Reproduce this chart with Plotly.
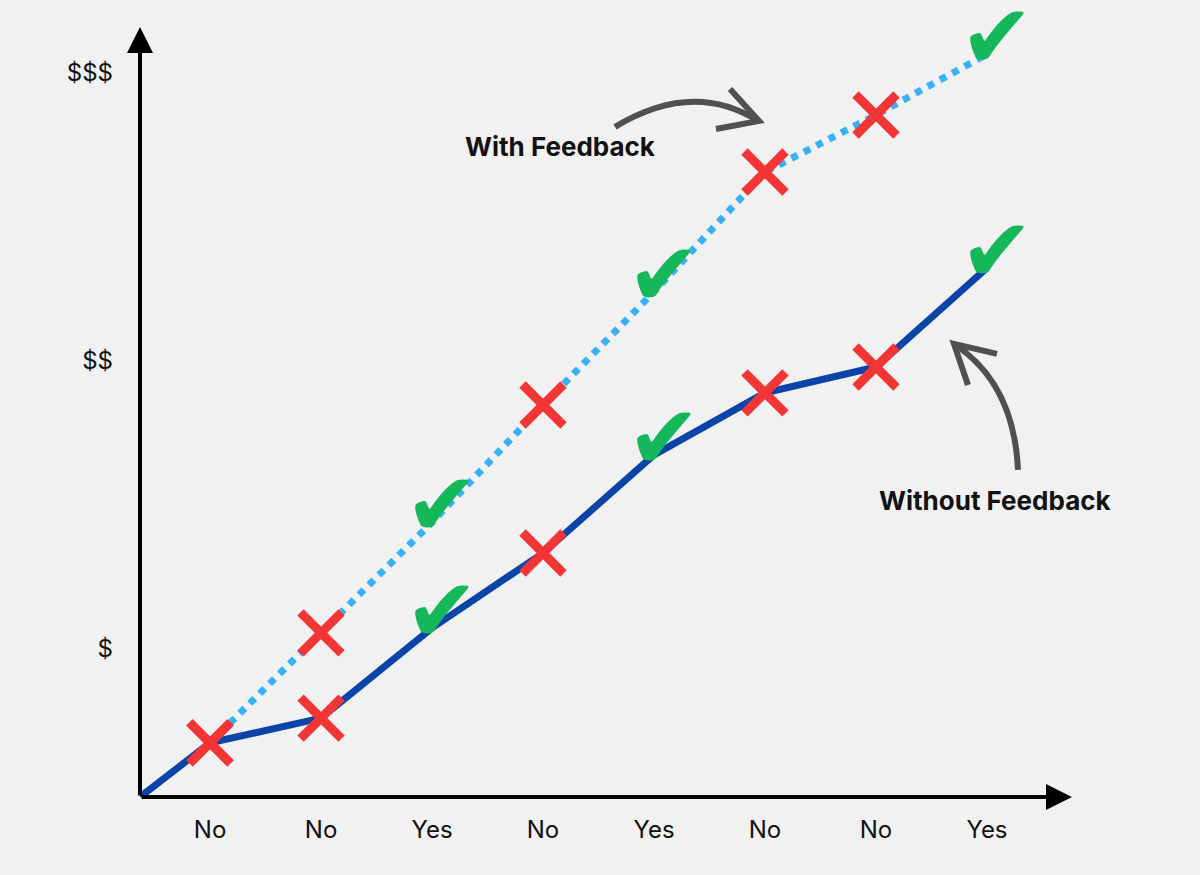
import plotly.graph_objects as go

# ---------------- data ----------------
steps = ["No", "No", "Yes", "No", "Yes", "No", "No", "Yes"]
step_pos = [1, 2, 3, 4, 5, 6, 7, 8]
without_feedback = [0.674, 0.760, 1.073, 1.333, 1.674, 1.889, 1.979, 2.323]
with_feedback = [0.674, 1.056, 1.44, 1.847, 2.24, 2.656, 2.854, 3.065]
origin_x, origin_y = 0.369, 0.486
y_tickvals = [1, 2, 3]
y_ticktext = ["$", "$$", "$$$"]

# ---------------- styling ----------------
BG = "#F1F1F1"
DARK_BLUE = "#0B44A8"
LIGHT_BLUE = "#38B0F6"
RED = "#F43535"
GREEN = "#14B85A"
GRAY = "#505050"
X_RANGE = [origin_x, 8.748]
Y_RANGE = [origin_y, 3.156]


def px_x(p):
    return 1 + (p - 210) / 111.0


def px_y(p):
    return 1 + (649 - p) / 288.0


fig = go.Figure()

# Without feedback (solid dark blue) starting at origin
fig.add_trace(go.Scatter(
    x=[origin_x] + step_pos, y=[origin_y] + without_feedback,
    mode="lines", line=dict(color=DARK_BLUE, width=7),
    hoverinfo="skip", showlegend=False, cliponaxis=False))

# With feedback (dotted light blue)
fig.add_trace(go.Scatter(
    x=step_pos, y=with_feedback,
    mode="lines", line=dict(color=LIGHT_BLUE, width=7, dash="dot"),
    hoverinfo="skip", showlegend=False, cliponaxis=False))

annotations = []
for series in (without_feedback, with_feedback):
    no_x = [x for x, s in zip(step_pos, steps) if s == "No"]
    no_y = [y for y, s in zip(series, steps) if s == "No"]
    fig.add_trace(go.Scatter(
        x=no_x, y=no_y, mode="markers",
        marker=dict(symbol="x-thin", size=41, color=RED,
                    line=dict(width=9, color=RED)),
        hoverinfo="skip", showlegend=False, cliponaxis=False))
    for x, y, s in zip(step_pos, series, steps):
        if s == "Yes":
            annotations.append(dict(
                x=x, y=y, xref="x", yref="y", text="✔", showarrow=False,
                xanchor="center", yanchor="bottom", xshift=10, yshift=-36,
                font=dict(family="DejaVu Sans", size=88, color=GREEN)))

# ---------------- decorations ----------------
def qpath(p0, c, p1):
    return "M {},{} Q {},{} {},{}".format(
        px_x(p0[0]), px_y(p0[1]), px_x(c[0]), px_y(c[1]), px_x(p1[0]), px_y(p1[1]))


def lpath(a, b, c):
    return "M {},{} L {},{} L {},{}".format(
        px_x(a[0]), px_y(a[1]), px_x(b[0]), px_y(b[1]), px_x(c[0]), px_y(c[1]))


shapes = [
    dict(type="path", xref="x", yref="y", path=qpath((615, 127), (693, 80), (758, 121)),
         line=dict(color=GRAY, width=6)),
    dict(type="path", xref="x", yref="y", path=lpath((730, 89), (759, 121), (716, 129)),
         line=dict(color=GRAY, width=6)),
    dict(type="path", xref="x", yref="y", path=qpath((1018, 470), (1014, 383), (954, 344)),
         line=dict(color=GRAY, width=6)),
    dict(type="path", xref="x", yref="y", path=lpath((997, 354), (954, 344), (968, 385)),
         line=dict(color=GRAY, width=6)),
]

annotations += [
    # x axis arrow
    dict(x=px_x(1072), y=origin_y, ax=origin_x, ay=origin_y, xref="x", yref="y",
         axref="x", ayref="y", showarrow=True, arrowhead=2, arrowsize=1.3,
         arrowwidth=4, arrowcolor="black", text=""),
    # y axis arrow
    dict(x=origin_x, y=px_y(27), ax=origin_x, ay=origin_y, xref="x", yref="y",
         axref="x", ayref="y", showarrow=True, arrowhead=2, arrowsize=1.3,
         arrowwidth=4, arrowcolor="black", text=""),
    dict(x=px_x(560), y=px_y(147), xref="x", yref="y", text="<b>With Feedback</b>",
         showarrow=False, font=dict(family="Inter", size=26, color="#111111")),
    dict(x=px_x(995), y=px_y(501), xref="x", yref="y", text="<b>Without Feedback</b>",
         showarrow=False, font=dict(family="Inter", size=26, color="#111111")),
]

fig.update_layout(
    width=1200, height=875,
    margin=dict(l=140, r=130, t=28, b=78),
    paper_bgcolor=BG, plot_bgcolor=BG,
    shapes=shapes, annotations=annotations,
    xaxis=dict(range=X_RANGE, tickvals=step_pos, ticktext=steps,
               showgrid=False, zeroline=False, showline=False,
               ticks="", ticklabelstandoff=16,
               tickfont=dict(family="Inter", size=24, color="#111111")),
    yaxis=dict(range=Y_RANGE, tickvals=y_tickvals, ticktext=y_ticktext,
               showgrid=False, zeroline=False, showline=False,
               ticks="", ticklabelstandoff=26,
               tickfont=dict(family="Inter", size=24, color="#111111")),
)

fig.write_html("out.html", config={"displayModeBar": False},
               post_script="document.body.style.margin='0px';")
